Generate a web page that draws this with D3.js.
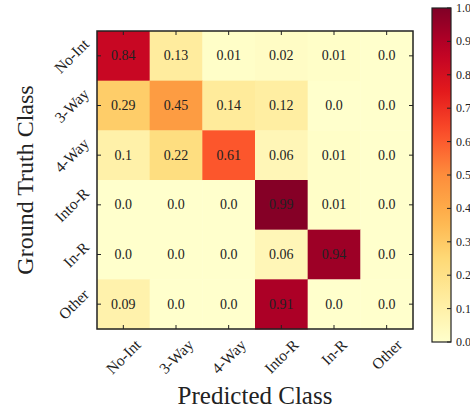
<!DOCTYPE html>
<html><head><meta charset="utf-8">
<script src="https://cdn.jsdelivr.net/npm/d3@7"></script>
<style>html,body{margin:0;padding:0;background:#fff;overflow:hidden}</style>
</head><body><svg id="c" width="470" height="414"></svg>
<script>
const classes = ["No-Int","3-Way","4-Way","Into-R","In-R","Other"];
const rowNoInt = [0.84,0.13,0.01,0.02,0.01,0.0];
const row3Way  = [0.29,0.45,0.14,0.12,0.0,0.0];
const row4Way  = [0.1,0.22,0.61,0.06,0.01,0.0];
const rowIntoR = [0.0,0.0,0.0,0.99,0.01,0.0];
const rowInR   = [0.0,0.0,0.0,0.06,0.94,0.0];
const rowOther = [0.09,0.0,0.0,0.91,0.0,0.0];
const matrix = [rowNoInt,row3Way,row4Way,rowIntoR,rowInR,rowOther];
const cbTicks = [0.0,0.1,0.2,0.3,0.4,0.5,0.6,0.7,0.8,0.9,1.0];
const ylorrd = ["#ffffcc","#ffeda0","#fed976","#feb24c","#fd8d3c","#fc4e2a","#e31a1c","#bd0026","#800026"];

const svg = d3.select("#c");
const FONT = "'Liberation Serif','DejaVu Serif',serif";
const L=97, R=413, T=31, B=329;
const x = d3.scaleBand().domain(classes).range([L,R]);
const y = d3.scaleBand().domain(classes).range([T,B]);
const color = d3.scaleLinear().domain(d3.range(9).map(i=>i/8)).range(ylorrd).interpolate(d3.interpolateRgb);

const cells = [];
matrix.forEach((row,i)=>row.forEach((v,j)=>cells.push({r:classes[i],c:classes[j],v})));
svg.append("g").selectAll("rect").data(cells).join("rect")
  .attr("x",d=>x(d.c)).attr("y",d=>y(d.r))
  .attr("width",x.bandwidth()+0.5).attr("height",y.bandwidth()+0.5)
  .attr("fill",d=>color(d.v));
const fmt = v => Number.isInteger(v) ? v.toFixed(1) : String(v);
svg.append("g").selectAll("text").data(cells).join("text")
  .attr("x",d=>x(d.c)+x.bandwidth()/2).attr("y",d=>y(d.r)+y.bandwidth()/2)
  .attr("text-anchor","middle").attr("dominant-baseline","central")
  .style("font-family",FONT).style("font-size","14px").attr("fill","#222")
  .text(d=>fmt(d.v));

// ticks inward on all sides
const tk = svg.append("g").attr("stroke","#222").attr("stroke-width",1);
classes.forEach(c=>{
  const cx = x(c)+x.bandwidth()/2, cy = y(c)+y.bandwidth()/2;
  tk.append("line").attr("x1",cx).attr("x2",cx).attr("y1",B).attr("y2",B-4);
  tk.append("line").attr("x1",cx).attr("x2",cx).attr("y1",T).attr("y2",T+4);
  tk.append("line").attr("x1",L).attr("x2",L+4).attr("y1",cy).attr("y2",cy);
  tk.append("line").attr("x1",R).attr("x2",R-4).attr("y1",cy).attr("y2",cy);
});
svg.append("rect").attr("x",L).attr("y",T).attr("width",R-L).attr("height",B-T)
  .attr("fill","none").attr("stroke","#222").attr("stroke-width",1.5);

// tick labels rotated 45
const TFS = 15.5, s2 = Math.SQRT2;
classes.forEach(c=>{
  const t = svg.append("text").attr("text-anchor","middle").attr("dominant-baseline","central")
    .style("font-family",FONT).style("font-size",TFS+"px").attr("fill","#222").text(c);
  const w = t.node().getComputedTextLength();
  const half = (w + 0.72*TFS)/(2*s2);
  const cx = x(c)+x.bandwidth()/2;
  t.attr("transform",`translate(${cx},${338+half}) rotate(-45)`);
  const t2 = svg.append("text").attr("text-anchor","middle").attr("dominant-baseline","central")
    .style("font-family",FONT).style("font-size",TFS+"px").attr("fill","#222").text(c);
  const cy = y(c)+y.bandwidth()/2;
  t2.attr("transform",`translate(${90-half},${cy}) rotate(-45)`);
});

// axis titles
svg.append("text").attr("x",(L+R)/2).attr("y",404).attr("text-anchor","middle")
  .style("font-family",FONT).style("font-size","25px").attr("fill","#222").text("Predicted Class");
svg.append("text").attr("transform",`translate(33,${(T+B)/2}) rotate(-90)`).attr("text-anchor","middle")
  .style("font-family",FONT).style("font-size","24px").attr("fill","#222").text("Ground Truth Class");

// colorbar
const cbX=432, cbW=19, cbT=8, cbB=342;
const cy = d3.scaleLinear().domain([0,1]).range([cbB,cbT]);
const grad = svg.append("defs").append("linearGradient").attr("id","g")
  .attr("x1",0).attr("y1",1).attr("x2",0).attr("y2",0);
d3.range(0,1.0001,0.05).forEach(t=>grad.append("stop").attr("offset",t).attr("stop-color",color(t)));
svg.append("rect").attr("x",cbX).attr("y",cbT).attr("width",cbW).attr("height",cbB-cbT).attr("fill","url(#g)");
const cbg = svg.append("g");
cbTicks.forEach(t=>{
  cbg.append("line").attr("x1",cbX+cbW-4).attr("x2",cbX+cbW).attr("y1",cy(t)).attr("y2",cy(t)).attr("stroke","#222");
  cbg.append("text").attr("x",cbX+cbW+5).attr("y",cy(t)).attr("dominant-baseline","central")
    .style("font-family",FONT).style("font-size","12px").attr("fill","#222").text(t.toFixed(1));
});
svg.append("rect").attr("x",cbX).attr("y",cbT).attr("width",cbW).attr("height",cbB-cbT)
  .attr("fill","none").attr("stroke","#222").attr("stroke-width",1.2);
</script></body></html>
